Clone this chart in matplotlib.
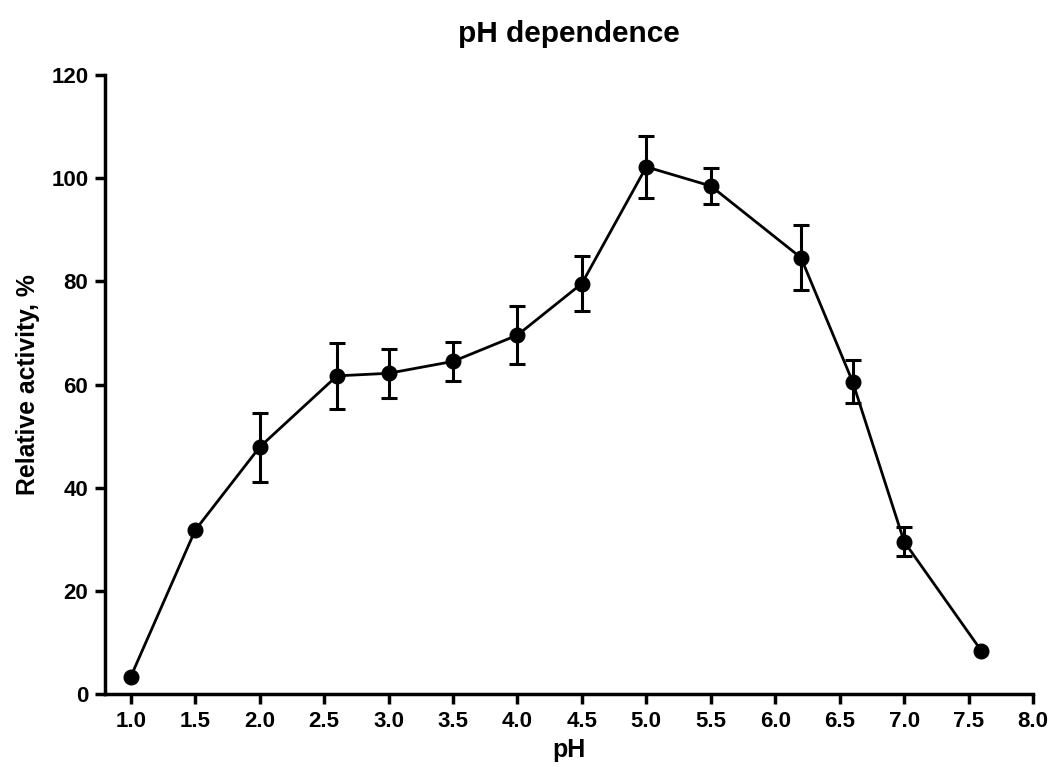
import matplotlib.pyplot as plt

plt.rcParams["font.family"] = ["Liberation Sans", "DejaVu Sans"]
plt.rcParams["font.weight"] = "bold"

# pH dependence data
ph = [1.0, 1.5, 2.0, 2.6, 3.0, 3.5, 4.0, 4.5, 5.0, 5.5, 6.2, 6.6, 7.0, 7.6]
activity = [3.4, 31.8, 47.9, 61.7, 62.2, 64.5, 69.6, 79.6, 102.2, 98.5, 84.6, 60.6, 29.6, 8.4]
sd = [0, 0, 6.7, 6.4, 4.7, 3.7, 5.6, 5.3, 6.0, 3.4, 6.3, 4.1, 2.9, 0]

xticks = [1.0, 1.5, 2.0, 2.5, 3.0, 3.5, 4.0, 4.5, 5.0, 5.5, 6.0, 6.5, 7.0, 7.5, 8.0]
yticks = [0, 20, 40, 60, 80, 100, 120]

fig = plt.figure(figsize=(10.53, 7.67), dpi=100)
ax = fig.add_axes([0.0997, 0.0948, 0.8813, 0.8074])

# error bars only where there is a visible SD
idx = [i for i, s in enumerate(sd) if s > 0]
ax.errorbar([ph[i] for i in idx], [activity[i] for i in idx], yerr=[sd[i] for i in idx],
            fmt="none", ecolor="black", elinewidth=2.2, capsize=5.5, capthick=2.2)
ax.plot(ph, activity, color="black", linewidth=2, marker="o", markersize=10.5)

ax.set_xlim(0.8, 8.0)
ax.set_ylim(0, 120)
ax.set_xticks(xticks)
ax.set_xticklabels([f"{t:.1f}" for t in xticks])
ax.set_yticks(yticks)

for side in ["top", "right"]:
    ax.spines[side].set_visible(False)
for side in ["left", "bottom"]:
    ax.spines[side].set_linewidth(2.5)
ax.tick_params(width=2.5, length=7, labelsize=16, pad=5)

ax.set_title("pH dependence", fontsize=21.5, fontweight="bold", pad=24)
ax.set_xlabel("pH", fontsize=18, fontweight="bold", labelpad=4)
ax.set_ylabel("Relative activity, %", fontsize=17.8, fontweight="bold", labelpad=8)

fig.savefig("out.png", dpi=100)
